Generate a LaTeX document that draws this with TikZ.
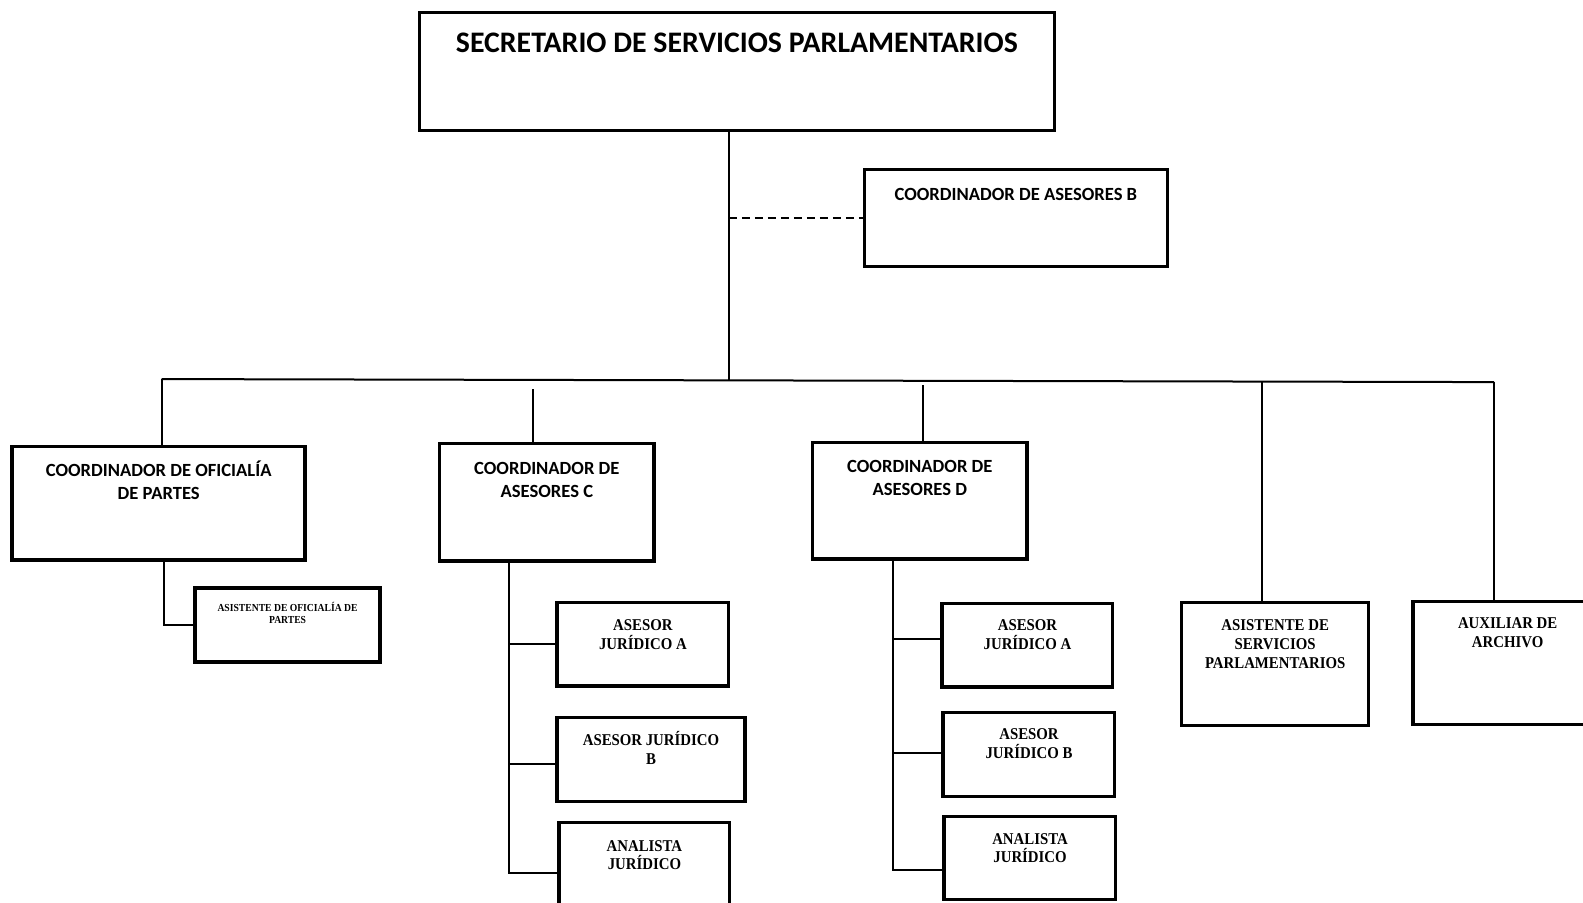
\documentclass[tikz,border=0pt]{standalone}
\usepackage{fontspec}
\newfontfamily\sansb{Carlito}
\newfontfamily\serifb[FakeStretch=0.9]{Liberation Serif}
\tikzset{
  x=1pt, y=-1pt,
  box/.style={draw, line width=3.5pt, anchor=north west, inner sep=0pt, outer sep=0pt},
  topbox/.style={box, line width=3pt},
  link/.style={line width=2pt},
  stxt/.style={anchor=base, inner sep=0pt, align=center, font=\sansb\bfseries\fontsize{18.4}{23}\selectfont},
  ttxt/.style={anchor=base, inner sep=0pt, align=center, font=\sansb\bfseries\fontsize{29.5}{34}\selectfont},
  rtxt/.style={anchor=base, inner sep=0pt, align=center, font=\serifb\bfseries\fontsize{16.3}{18.5}\selectfont},
  smtxt/.style={anchor=base, inner sep=0pt, align=center, font=\serifb\bfseries\fontsize{10.6}{12}\selectfont},
}
\begin{document}
\begin{tikzpicture}[scale=1.0106, every node/.append style={transform shape}]
\useasboundingbox (0,0) rectangle (1566.4,893.5);
\clip (0,0) rectangle (1566.4,893.5);
\fill[white] (0,0) rectangle (1566.4,893.5);

% boxes
\node[topbox, minimum width=628pt, minimum height=117pt,
  label={[ttxt, yshift=-40pt]north:SECRETARIO DE SERVICIOS PARLAMENTARIOS}] (top) at (415,12) {};
\node[topbox, minimum width=300pt, minimum height=96pt,
  label={[stxt, yshift=-30pt]north:COORDINADOR DE ASESORES B}] (coordB) at (855,168) {};
\node[box, minimum width=290pt, minimum height=112pt,
  label={[stxt, yshift=-52pt]north:COORDINADOR DE OFICIALÍA\\DE PARTES}] (ofic) at (12,442) {};
\node[box, minimum width=212pt, minimum height=116pt,
  label={[stxt, yshift=-53pt]north:COORDINADOR DE\\ASESORES C}] (coordC) at (435,439) {};
\node[box, minimum width=212pt, minimum height=115pt,
  label={[stxt, yshift=-52pt]north:COORDINADOR DE\\ASESORES D}] (coordD) at (804,438) {};
\node[box, minimum width=183pt, minimum height=73pt,
  label={[smtxt, yshift=-34.5pt]north:ASISTENTE DE OFICIALÍA DE\\PARTES}] (asisOf) at (193,582) {};

\node[box, minimum width=170pt, minimum height=83pt,
  label={[rtxt, yshift=-46.5pt]north:ASESOR\\JURÍDICO A}] (cA) at (551,596) {};
\node[box, minimum width=186pt, minimum height=83pt,
  label={[rtxt, yshift=-46.5pt]north:ASESOR JURÍDICO\\B}] (cB) at (551,710) {};
\node[box, minimum width=169pt, minimum height=100pt,
  label={[rtxt, yshift=-46.5pt]north:ANALISTA\\JURÍDICO}] (cAn) at (553,814) {};

\node[box, minimum width=169pt, minimum height=83pt,
  label={[rtxt, yshift=-45.5pt]north:ASESOR\\JURÍDICO A}] (dA) at (932,597) {};
\node[box, minimum width=170pt, minimum height=83pt,
  label={[rtxt, yshift=-45.5pt]north:ASESOR\\JURÍDICO B}] (dB) at (933,705) {};
\node[box, minimum width=170pt, minimum height=82pt,
  label={[rtxt, yshift=-45.5pt]north:ANALISTA\\JURÍDICO}] (dAn) at (934,808) {};

\node[box, minimum width=185pt, minimum height=122pt,
  label={[rtxt, yshift=-65pt]north:ASISTENTE DE\\SERVICIOS\\PARLAMENTARIOS}] (asisServ) at (1169,596) {};
\node[box, minimum width=187pt, minimum height=122pt,
  label={[rtxt, yshift=-45.5pt]north:AUXILIAR DE\\ARCHIVO}] (aux) at (1398,595) {};

% connector points
\coordinate (trunk) at (721,376.3);
\coordinate (busL) at (160,375);
\coordinate (busR) at (1478,378);
\coordinate (cDrop) at (527,385);
\coordinate (dDrop) at (913,381);
\coordinate (sDrop) at (1248,377.5);
\coordinate (oSpine) at (162,554);
\coordinate (cSpine) at (504,555);
\coordinate (dSpine) at (883,553);
\coordinate (cBj) at ([yshift=-4pt]cB.west);
\coordinate (dAj) at ([yshift=6pt]dA.west);
\coordinate (dBj) at ([yshift=2pt]dB.west);
\coordinate (dAnj) at ([yshift=-11pt]dAn.west);

% connectors
\draw[link] (top.south -| trunk) -- (trunk);
\draw[link, dash pattern=on 8pt off 5pt] (coordB.west -| trunk) -- (coordB.west);
\draw[link] (busL) -- (busR);
\draw[link] (busL) -- (busL |- ofic.north);
\draw[link] (cDrop) -- (cDrop |- coordC.north);
\draw[link] (dDrop) -- (dDrop |- coordD.north);
\draw[link] (sDrop) -- (sDrop |- asisServ.north);
\draw[link] (busR) -- (busR |- aux.north);

\draw[link] (oSpine) |- (asisOf.west);

\draw[link] (cSpine) -- (cSpine |- cAn.west) -- (cAn.west);
\draw[link] (cSpine |- cA.west) -- (cA.west);
\draw[link] (cSpine |- cBj) -- (cBj);

\draw[link] (dSpine) -- (dSpine |- dAnj) -- (dAnj);
\draw[link] (dSpine |- dAj) -- (dAj);
\draw[link] (dSpine |- dBj) -- (dBj);
\end{tikzpicture}
\end{document}
